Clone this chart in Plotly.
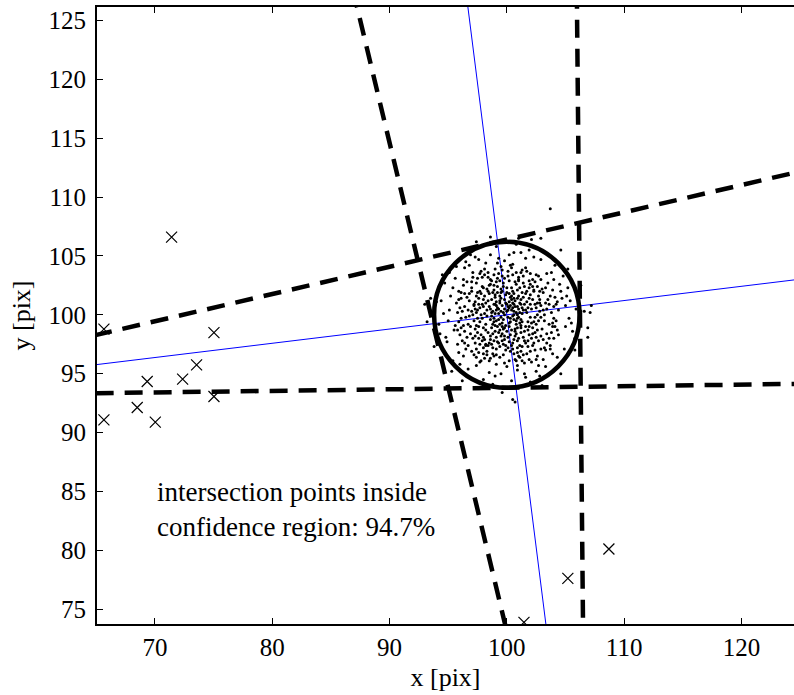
import plotly.graph_objects as go

# ---- data -------------------------------------------------------------
# detected outliers (crosses)
outlier_x = [71.42, 65.65, 75.03, 73.55, 72.36, 69.34, 75.03, 68.49, 65.65, 70.03, 101.46, 105.2, 108.7]
outlier_y = [106.6, 98.78, 98.49, 95.75, 94.53, 94.33, 93.06, 92.12, 91.07, 90.88, 73.87, 77.6, 80.1]

# intersection points, as offsets from the nominal centre (100, 100)
center = (100.0, 100.0)
offsets = [
    (0.3,0.8),(-0.9,0.4),(1.2,-0.4),(-1.3,0.2),(0.9,-1.1),(-0.4,-0.7),(0.6,0.9),(-0.2,1.3),(0.1,-0.2),(-0.8,-1.0),
    (1.0,0.5),(-1.1,-0.3),(0.5,-0.1),(-0.2,0.5),(1.3,0.1),(-0.6,1.0),(0.4,-1.3),(-1.0,0.9),(0.8,0.2),(-0.5,-0.2),
    (0.2,1.1),(-1.2,-0.8),(1.1,-0.7),(-0.3,-1.2),(0.7,1.2),(-0.7,0.1),(0.0,0.3),(1.4,0.4),(-1.4,0.5),(0.3,-0.6),
    (-0.1,-0.9),(0.9,0.7),(-0.9,-0.5),(0.6,-0.4),(-0.4,0.8),(1.2,0.9),(-0.6,-1.3),(0.2,-1.0),(-1.3,-0.1),(0.8,-0.8),
    (-0.2,0.0),(0.4,0.4),(-0.8,0.6),(1.0,-0.2),(-0.5,1.4),(0.1,0.7),(-1.0,-0.9),(0.7,-1.2),(-0.3,0.2),(1.3,-0.6),
    (-0.7,-0.4),(0.5,1.0),(-1.2,0.3),(0.0,-1.4),(0.9,0.0),(-0.1,1.0),(0.3,-0.3),(-0.9,1.1),(1.1,1.0),(-0.6,-0.8),
    (0.6,0.3),(-1.4,-0.4),(0.2,0.6),
    (0.6,0.0),(-0.3,-0.4),(0.0,0.9),(0.8,-0.5),(-0.7,0.5),(0.4,1.3),(-1.0,0.1),(1.1,0.2),(-0.2,-1.1),(0.5,0.6),
    (-0.5,0.3),(0.9,-0.3),(-1.1,-0.6),(0.2,-0.7),(-0.6,1.2),(1.2,-0.9),(0.1,0.4),(-0.4,-1.0),(0.7,0.7),(-0.9,0.8),
    (1.8,0.6),(-2.1,0.9),(0.4,2.3),(-0.7,-2.4),(2.5,-0.8),(-1.6,-1.5),(1.3,1.9),(-2.6,0.2),(0.9,-2.2),(-1.1,2.1),
    (2.2,1.3),(-2.4,-1.0),(0.1,-2.8),(-0.3,2.7),(1.9,-1.7),(-1.9,1.6),(2.8,0.3),(-2.8,-0.5),(1.5,2.4),(-1.3,-2.5),
    (2.0,-0.2),(-1.7,0.4),(0.6,1.8),(-0.9,-1.9),(2.6,1.0),(-2.2,1.8),(1.1,-2.6),(-0.5,1.9),(1.6,-1.0),(-2.0,-1.9),
    (0.3,-1.7),(-1.5,2.5),(2.4,-1.5),(-2.7,1.1),(1.7,1.1),(-0.2,-2.1),(0.8,2.6),(-1.8,-0.8),(2.1,0.5),(-1.0,1.5),
    (1.4,-1.9),(-2.5,-1.5),(0.5,-2.4),(-0.8,2.4),(2.7,-0.5),(-1.4,-1.8),(1.0,1.6),(-2.3,0.6),(1.8,-2.2),(-0.1,1.7),
    (2.3,2.0),(-1.9,-2.1),(0.7,-1.8),(-1.2,1.9),(1.5,0.9),(-2.6,-0.9),(0.2,2.9),(-0.6,-2.7),(2.9,-0.2),(-1.6,1.2),
    (1.2,-1.5),(-2.1,-0.3),(0.9,2.1),(-0.4,-1.6),(2.0,1.7),(-2.4,1.4),(1.6,-2.4),(-1.1,-2.2),(2.5,0.6),(-1.7,2.2),
    (0.0,1.9),(-2.9,0.0),(1.3,-2.7),(-0.3,-2.5),(1.9,1.4),(-1.3,1.3),(2.2,-1.1),(-2.0,0.7),(0.6,-2.1),(-0.9,2.8),
    (1.7,0.2),(-1.8,-1.3),(0.4,1.6),(-0.2,-1.8),(2.6,-1.3),(-2.3,2.0),(1.1,2.3),(-1.5,-2.4),(2.4,0.9),(-2.7,-1.2),
    (0.8,-1.6),(-1.0,1.7),(1.4,2.7),(-0.7,-1.5),(2.1,-2.0),(-2.2,-1.7),(1.0,-2.0),(-1.4,2.6),(2.8,1.0),(-1.7,-0.1),
    (0.2,-2.3),(-0.5,2.2),(1.8,-1.3),(-2.5,0.4),(1.2,1.3),(-1.2,-1.6),(2.3,-0.6),(-2.0,1.3),(0.5,2.0),(-0.8,-2.3),
    (1.6,1.8),(-2.6,1.6),(0.9,-2.8),(-1.6,-2.6),(2.0,0.9),(-1.1,0.9),(0.3,1.5),(-0.1,-2.6),(2.7,1.6),(-2.4,-2.0),
    (1.5,-1.4),(-1.9,0.1),(0.7,2.8),(-0.4,2.0),(2.2,-1.6),(-1.3,-1.1),(1.3,0.6),(-2.8,0.8),(0.1,-1.9),(-0.9,-2.9),
    (1.9,2.3),(-1.5,1.8),(2.5,-1.9),(-2.1,-2.2),(0.6,1.4),(-0.6,1.6),
    (1.7,2.0),(-2.0,2.3),(2.3,-2.4),(-2.3,-0.6),(0.5,-2.9),(-0.6,2.9),(2.9,0.8),(-1.2,-2.8),(1.4,1.5),(-1.5,0.7),
    (0.7,-1.4),(-1.8,1.0),(2.1,-0.7),(-0.4,-2.2),(1.0,2.9),(-2.5,-0.3),(1.8,-0.6),(-1.0,-1.4),(0.2,1.8),(-2.2,0.0),
    (1.5,-2.2),(-0.8,1.9),(2.6,0.0),(-1.4,-2.1),(0.9,1.4),(-2.7,0.5),(1.2,-1.1),(-0.3,2.4),(2.2,2.4),(-1.8,-2.5),
    (0.4,-2.6),(-1.1,2.5),(2.4,-0.2),(-2.0,-1.1),(1.6,0.4),(-0.5,-1.8),(0.0,2.3),(-2.4,0.9),(1.9,-1.0),(-1.6,2.0),
    (3.4,0.5),(-3.2,1.2),(0.8,3.6),(-1.1,-3.5),(2.6,2.4),(-2.9,-2.0),(3.9,-1.0),(-3.8,0.3),(1.7,-3.3),(-1.9,3.4),
    (3.1,1.9),(-3.6,-1.4),(0.2,-3.9),(-0.5,4.1),(2.4,-3.0),(-2.6,2.7),(4.2,0.9),(-4.1,-0.6),(1.3,3.8),(-1.5,-3.9),
    (3.6,-2.0),(-3.0,2.3),(0.5,4.3),(-0.3,-3.4),(2.9,3.0),(-3.3,-2.6),(4.0,-0.3),(-4.3,1.0),(1.9,-3.8),(-2.2,3.7),
    (3.3,1.0),(-3.5,-0.2),(1.0,3.2),(-0.9,-4.2),(2.2,-2.6),(-2.4,-3.2),(3.7,1.6),(-3.9,1.9),(0.6,-3.3),(-1.4,3.0),
    (3.0,-1.2),(-3.1,-1.0),(2.0,3.5),(-2.0,-2.8),(4.3,-1.3),(-3.7,2.5),(1.5,-4.1),(-0.7,3.5),(3.5,2.7),(-4.4,-0.9),
    (2.7,-2.2),(-2.8,0.9),(0.1,3.7),(-1.7,-3.1),(3.8,0.2),(-3.4,2.8),(1.1,-3.6),(-2.5,3.1),(3.2,-2.8),(-3.0,-3.1),
    (2.3,2.1),(-2.1,2.4),(0.9,-4.3),(-0.2,3.1),(4.1,1.5),(-4.0,-1.7),(1.6,4.0),(-1.2,-3.3),(3.4,-1.6),(-3.6,0.7),
    (2.8,1.3),(-2.7,-1.8),(0.3,-3.1),(-1.0,3.9),(3.0,2.2),(-3.8,-2.2),(2.1,-4.0),(-2.3,-2.5),(4.4,0.4),(-3.2,1.8),
    (1.4,3.3),(-1.6,3.6),(3.6,-0.8),(-4.2,0.2),(0.7,-3.8),(-0.6,-3.6),(2.5,3.4),(-2.9,3.2),(3.3,-3.0),(-3.5,-2.9),
    (3.9,2.1),(-2.6,-3.6),(1.2,-3.1),(-0.4,3.3),(2.6,-3.5),(-3.3,0.4),(0.4,4.0),(-1.9,-3.7),(4.0,-2.0),(-4.1,1.3),
    (2.0,2.6),(-2.2,-3.9),(3.2,0.0),(-3.0,2.0),(1.8,-2.7),(-1.3,2.9),(3.7,-2.6),(-3.9,-1.1),(0.0,-4.4),(-0.8,4.4),
    (2.9,-1.8),(-2.5,1.9),(1.0,3.0),(-1.8,-2.6),(4.2,-0.5),(-3.7,3.0),
    (3.2,-0.5),(-3.3,-0.8),(0.9,-3.2),(-0.8,3.1),(2.8,2.0),(-2.7,-2.4),(3.5,1.3),(-3.4,1.5),(1.4,-3.4),(-1.6,3.2),
    (3.1,-2.1),(-3.1,-1.6),(0.5,3.4),(-0.9,-3.4),(2.4,2.8),(-2.6,-2.9),(4.0,0.7),(-3.9,-0.3),(2.0,-3.1),(-2.1,3.2),
    (3.8,-1.5),(-3.6,1.8),(1.7,3.7),(-0.2,-4.1),(2.9,-2.9),(-3.4,-1.9),(0.3,4.2),(-1.4,-3.7),(3.3,2.3),(-3.0,2.8),
    (1.2,3.6),(-4.2,-1.3),(2.5,-3.8),(-2.8,-3.4),(4.3,1.1),(-3.7,-0.9),(0.8,-3.9),(-1.9,3.9),(3.6,0.9),(-3.2,-0.1),
    (2.7,3.3),(-2.3,3.5),(1.0,-3.5),(-0.4,3.8),(3.9,-0.7),(-4.0,0.6),(1.9,2.9),(-1.7,-3.4),(3.4,-2.4),(-3.6,-2.4),
    (-0.1,-3.0),(0.1,3.3),(3.1,0.4),(-3.0,0.3),(2.2,3.0),(-2.0,-3.3),(4.1,-1.0),(-4.1,2.0),(1.3,-3.9),(-1.1,3.4),
    (5.0,0.8),(-4.8,1.6),(1.2,5.3),(-1.5,-4.9),(3.8,3.6),(-4.1,-3.2),(5.6,-1.4),(-5.4,0.1),(2.5,-4.8),(-2.7,4.9),
    (4.5,2.6),(-5.2,-1.9),(0.4,-5.6),(-0.9,5.8),(3.3,-4.4),(-3.6,4.0),(5.9,0.5),(-5.8,-0.8),(1.9,5.5),(-2.0,-5.5),
    (4.9,-2.9),(-4.4,3.1),(0.8,6.0),(-0.5,-5.0),(4.1,4.2),(-4.6,-3.9),(5.3,-0.3),(-6.0,1.1),(2.8,-5.2),(-3.1,5.1),
    (4.7,1.4),(-5.0,-0.5),(1.6,4.8),(-1.2,-5.9),(3.1,-3.8),(-3.3,-4.6),(5.2,2.3),(-5.3,2.7),(0.9,-4.7),(-1.8,4.4),
    (4.4,-1.7),(-4.5,-1.3),(2.9,4.7),(-2.6,-4.3),(5.8,-2.0),(-4.9,3.6),(2.0,-5.7),(-0.7,4.8),(4.8,3.3),(-5.7,-1.6),
    (3.7,-2.9),(-3.9,1.4),(0.2,5.1),(-2.3,-4.0),(5.1,1.6),(-4.3,4.1),(1.5,-5.0),(-3.5,4.5),(4.3,-3.6),(-4.0,-4.2),
    (3.4,3.5),(-2.9,3.6),(1.1,-6.1),(-0.2,4.6),
    (5.0,-1.0),(-4.9,0.4),(0.6,5.3),(-1.0,-5.2),(3.9,-3.3),(-3.7,-3.5),(4.6,2.0),(-4.6,2.3),(2.3,4.9),(-2.4,4.7),
    (5.4,1.2),(-5.1,-2.3),(1.6,-5.3),(-1.4,5.1),(4.0,3.0),(-4.2,-2.5),(2.7,-4.3),(-3.2,4.2),(5.5,-0.7),(-5.6,1.2),
    (6.6,0.3),(-6.5,1.4),(1.0,6.5),(-0.4,-6.6),(5.2,3.9),(-4.7,-4.8),(6.9,-1.9),(-6.8,-0.6),(3.0,-6.0),(-2.6,6.2),
    (5.8,-3.0),(-5.5,3.4),(0.5,-7.2),(-1.4,6.6),(6.3,2.5),(-6.2,-2.7),(2.1,6.4),(-3.8,-5.6),(4.6,-5.0),(-7.0,0.9),
    (7.2,0.8),(3.7,9.0),(2.9,6.5),(4.6,5.5),(7.1,0.2),(6.9,-1.1),(0.7,-7.4),
]
cloud_x = [center[0] + dx for dx, dy in offsets]
cloud_y = [center[1] + dy for dx, dy in offsets]

# confidence circle
circle_r = 6.2
inside_share = 94.7

# bounding lines of the confidence region (two points each)
bound_lines = [
    ((60.0, 97.13), (130.0, 113.34)),
    ((60.0, 93.27), (130.0, 94.20)),
    ((86.30, 130.0), (100.74, 70.0)),
    ((105.94, 130.0), (106.53, 70.0)),
]
# principal lines through the centre
main_lines = [
    ((60.0, 95.16), (130.0, 103.63)),
    ((96.19, 130.0), (103.80, 70.0)),
]

x_ticks = [70, 80, 90, 100, 110, 120]
y_ticks = [75, 80, 85, 90, 95, 100, 105, 110, 115, 120, 125]

FONT = "Liberation Serif"

fig = go.Figure()

for p0, p1 in main_lines:
    fig.add_trace(go.Scatter(x=[p0[0], p1[0]], y=[p0[1], p1[1]], mode="lines",
                             line=dict(color="#0000ff", width=1), showlegend=False, hoverinfo="skip"))

fig.add_trace(go.Scatter(x=cloud_x, y=cloud_y, mode="markers",
                         marker=dict(color="black", size=3, line=dict(width=0)),
                         showlegend=False))

for p0, p1 in bound_lines:
    fig.add_trace(go.Scatter(x=[p0[0], p1[0]], y=[p0[1], p1[1]], mode="lines",
                             line=dict(color="black", width=4.5, dash="18px,11px"),
                             showlegend=False, hoverinfo="skip"))

fig.add_trace(go.Scatter(x=outlier_x, y=outlier_y, mode="markers",
                         marker=dict(symbol="x-thin", size=11, color="black",
                                     line=dict(width=1.2, color="black")),
                         showlegend=False))

fig.add_shape(type="circle", xref="x", yref="y",
              x0=center[0] - circle_r, x1=center[0] + circle_r,
              y0=center[1] - circle_r, y1=center[1] + circle_r,
              line=dict(color="black", width=4.5))

fig.add_annotation(x=70.0, y=84.96, xref="x", yref="y", xanchor="left", yanchor="middle",
                   text="intersection points inside", showarrow=False,
                   font=dict(family=FONT, size=27, color="black"))
fig.add_annotation(x=70.0, y=82.0, xref="x", yref="y", xanchor="left", yanchor="middle",
                   text=f"confidence region: {inside_share}%", showarrow=False,
                   font=dict(family=FONT, size=27, color="black"))

axis_common = dict(showgrid=False, zeroline=False, showline=True, linecolor="black", linewidth=2,
                   ticks="inside", ticklen=6, tickwidth=1, tickcolor="black",
                   tickfont=dict(family=FONT, size=25, color="black"))

fig.update_xaxes(range=[65.06, 124.48], tickvals=x_ticks, mirror="ticks",
                 title=dict(text="x [pix]", font=dict(family=FONT, size=26, color="black"), standoff=8),
                 **axis_common)
fig.update_yaxes(range=[73.73, 126.15], tickvals=y_ticks, mirror=False, ticklabelstandoff=4,
                 title=dict(text="y [pix]", font=dict(family=FONT, size=26, color="black"), standoff=10),
                 **axis_common)

fig.update_layout(width=794, height=695, margin=dict(l=97, r=0, t=7, b=71),
                  paper_bgcolor="white", plot_bgcolor="white")

fig.write_html("out.html")
